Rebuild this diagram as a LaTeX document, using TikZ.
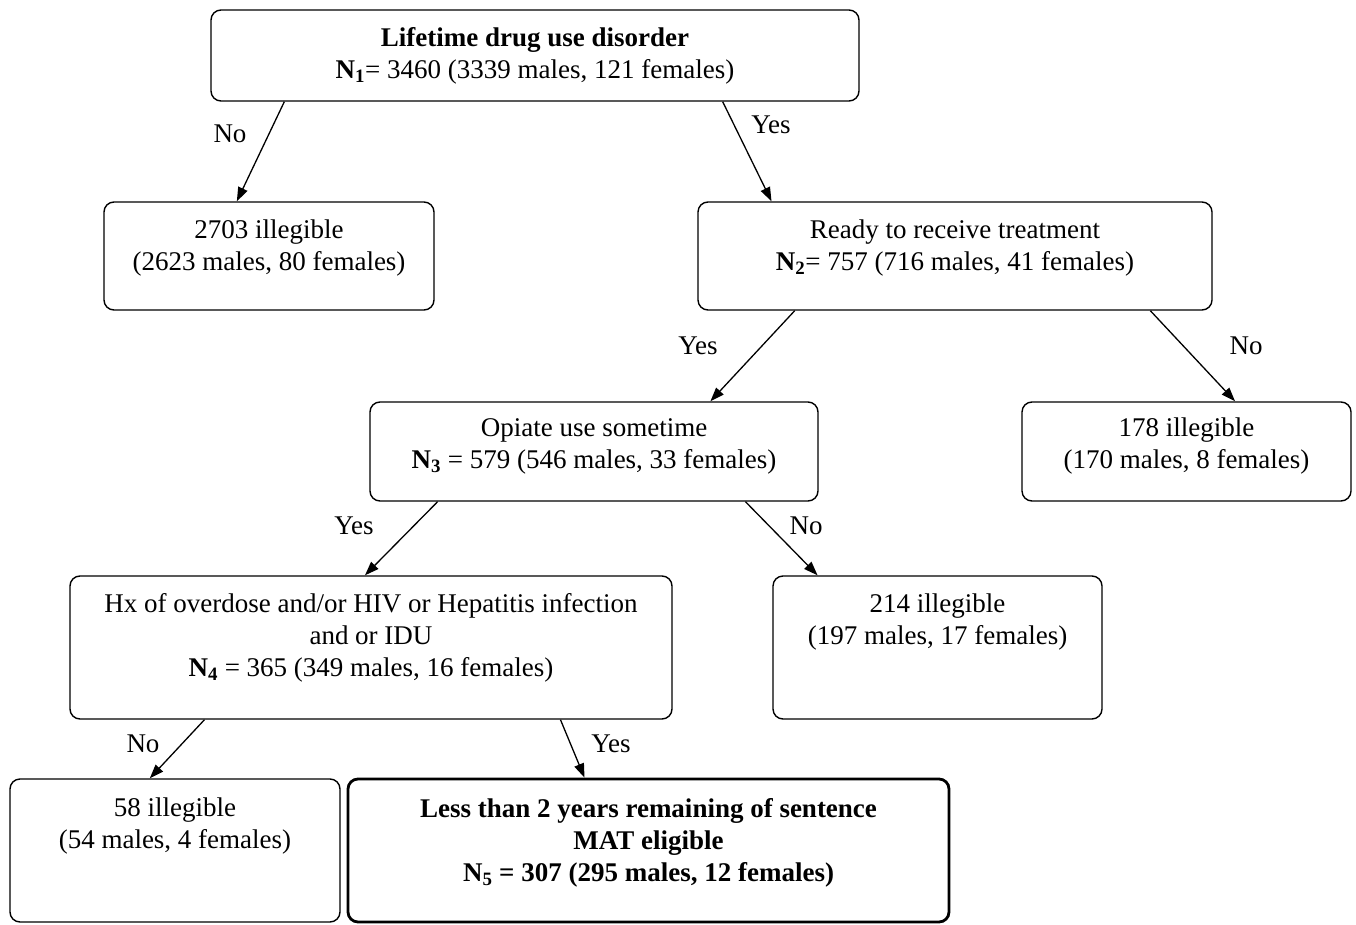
\documentclass[tikz,border=0pt]{standalone}
\usepackage{fontspec}
\setmainfont{Liberation Serif}
\usetikzlibrary{positioning,arrows.meta,calc}

\begin{document}
\begin{tikzpicture}[
    x=1pt, y=-1pt,
    box/.style={draw, rounded corners=10pt, align=center, line width=1.4pt, inner sep=0pt,
      font=\fontsize{27}{32}\selectfont},
    flow/.style={-{Triangle[length=14pt,width=10pt]}, line width=1.3pt},
    lbl/.style={font=\fontsize{27}{32}\selectfont, inner sep=0pt},
]
  \useasboundingbox (0,0) rectangle (1356,925);

  \node[box, minimum width=648pt, minimum height=91pt] (disorder) at (535,55.5) {
    \textbf{Lifetime drug use disorder}\\
    \textbf{N\textsubscript{1}}= 3460 (3339 males, 121 females)};
  \node[box, minimum width=330pt, minimum height=108pt, text depth=22pt] (noDisorder) at (269,256) {
    2703 illegible\\
    (2623 males, 80 females)};
  \node[box, minimum width=514pt, minimum height=108pt, text depth=22pt] (ready) at (955,256) {
    Ready to receive treatment\\
    \textbf{N\textsubscript{2}}= 757 (716 males, 41 females)};
  \node[box, minimum width=448pt, minimum height=99pt, text depth=16pt] (opiate) at (594,451.5) {
    Opiate use sometime\\
    \textbf{N\textsubscript{3}} = 579 (546 males, 33 females)};
  \node[box, minimum width=329pt, minimum height=99pt, text depth=16pt] (notReady) at (1186.5,451.5) {
    178 illegible\\
    (170 males, 8 females)};
  \node[box, minimum width=602pt, minimum height=143pt, text depth=25pt] (hx) at (371,647.5) {
    Hx of overdose and/or HIV or Hepatitis infection\\
    and or IDU\\
    \textbf{N\textsubscript{4}} = 365 (349 males, 16 females)};
  \node[box, minimum width=329pt, minimum height=143pt, text depth=57pt] (noOpiate) at (937.5,647.5) {
    214 illegible\\
    (197 males, 17 females)};
  \node[box, minimum width=330pt, minimum height=143pt, text depth=55pt] (noHx) at (175,850.5) {
    58 illegible\\
    (54 males, 4 females)};
  \node[box, line width=2.8pt, minimum width=601pt, minimum height=143pt, text depth=21pt,
    font=\fontsize{27}{32}\selectfont\bfseries] (eligible) at (648.5,850.5) {
    Less than 2 years remaining of sentence\\
    MAT eligible\\
    N\textsubscript{5} = 307 (295 males, 12 females)};

  \draw[flow] ($(disorder.south west)!0.114!(disorder.south east)$) -- ($(noDisorder.north west)!0.403!(noDisorder.north east)$);
  \draw[flow] ($(disorder.south west)!0.789!(disorder.south east)$) -- ($(ready.north west)!0.144!(ready.north east)$);
  \draw[flow] ($(ready.south west)!0.189!(ready.south east)$) -- ($(opiate.north west)!0.759!(opiate.north east)$);
  \draw[flow] ($(ready.south west)!0.879!(ready.south east)$) -- ($(notReady.north west)!0.647!(notReady.north east)$);
  \draw[flow] ($(opiate.south west)!0.152!(opiate.south east)$) -- ($(hx.north west)!0.490!(hx.north east)$);
  \draw[flow] ($(opiate.south west)!0.837!(opiate.south east)$) -- ($(noOpiate.north west)!0.137!(noOpiate.north east)$);
  \draw[flow] ($(hx.south west)!0.224!(hx.south east)$) -- ($(noHx.north west)!0.424!(noHx.north east)$);
  \draw[flow] ($(hx.south west)!0.814!(hx.south east)$) -- ($(eligible.north west)!0.394!(eligible.north east)$);

  % branch labels
  \node[lbl] (noA)  at (230,134) {No};
  \node[lbl] (yesA) at (771,125) {Yes};
  \node[lbl] (yesB) at (698,346) {Yes};
  \node[lbl] (noB)  at (1246,346) {No};
  \node[lbl] (yesC) at (354,526) {Yes};
  \node[lbl] (noC)  at (806,526) {No};
  \node[lbl] (noD)  at (143,744) {No};
  \node[lbl] (yesD) at (611,744) {Yes};
\end{tikzpicture}
\end{document}
